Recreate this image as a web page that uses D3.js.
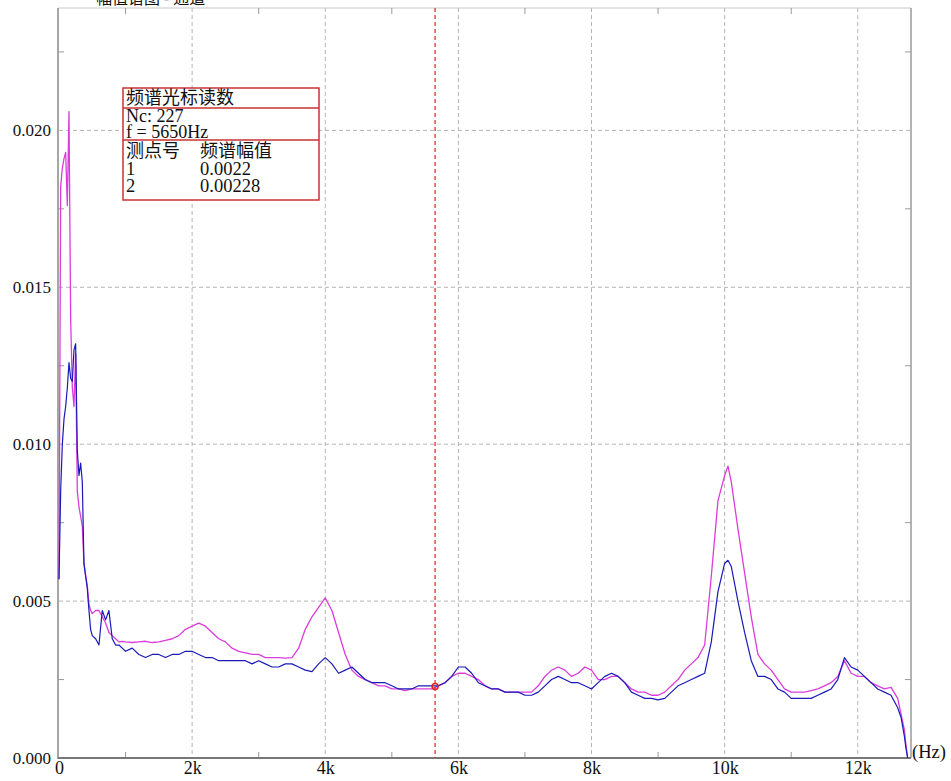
<!DOCTYPE html>
<html>
<head>
<meta charset="utf-8">
<script src="https://cdn.jsdelivr.net/npm/d3@7"></script>
<style>
  html, body { margin: 0; padding: 0; background: #fff; }
  svg { display: block; }
  text { font-family: "Liberation Serif", "Noto Sans CJK SC", serif; fill: #111; }
</style>
</head>
<body>
<svg id="chart" width="951" height="781"></svg>
<script>
// Frequency lines (Hz) shared by both measuring points
const freqs = [
  0, 25, 50, 75, 100, 125, 150, 175, 200, 225, 250, 275, 300, 325, 350, 375, 400, 425, 450, 475, 500,
  550, 600, 650, 700, 750, 800, 850, 900, 950, 1000,
  1100, 1200, 1300, 1400, 1500, 1600, 1700, 1800, 1900, 2000,
  2100, 2200, 2300, 2400, 2500, 2600, 2700, 2800, 2900, 3000,
  3100, 3200, 3300, 3400, 3500, 3600, 3700, 3800, 3900, 4000,
  4100, 4200, 4300, 4400, 4500, 4600, 4700, 4800, 4900, 5000,
  5100, 5200, 5300, 5400, 5500, 5600, 5700, 5800, 5900, 6000,
  6100, 6200, 6300, 6400, 6500, 6600, 6700, 6800, 6900, 7000,
  7100, 7200, 7300, 7400, 7500, 7600, 7700, 7800, 7900, 8000,
  8100, 8200, 8300, 8400, 8500, 8600, 8700, 8800, 8900, 9000,
  9100, 9200, 9300, 9400, 9500, 9600, 9700, 9800, 9900, 10000, 10050,
  10100, 10200, 10300, 10400, 10500, 10600, 10700, 10800, 10900, 11000,
  11100, 11200, 11300, 11400, 11500, 11600, 11700, 11800, 11900, 12000,
  12100, 12200, 12300, 12400, 12500, 12600, 12650, 12700, 12725, 12750
];

// Measuring point 2 (magenta)
const point2 = [
  0.0057, 0.0182, 0.0188, 0.0191, 0.0193, 0.0176, 0.0206, 0.0140, 0.0118, 0.0112, 0.0129, 0.0085, 0.0080, 0.0077, 0.0074, 0.0062, 0.0058, 0.0055, 0.0049, 0.0047, 0.0046,
  0.0047, 0.0047, 0.0045, 0.0043, 0.0040, 0.0039, 0.0038, 0.0037, 0.00372, 0.0037,
  0.00368, 0.0037, 0.00372, 0.00368, 0.0037, 0.00375, 0.0038, 0.0039, 0.0041, 0.0042,
  0.0043, 0.0042, 0.0040, 0.0038, 0.0037, 0.0035, 0.0034, 0.00335, 0.0033, 0.0033,
  0.0032, 0.0032, 0.0032, 0.00318, 0.0032, 0.0035, 0.0041, 0.0045, 0.0048, 0.0051,
  0.0047, 0.0040, 0.0033, 0.0028, 0.0026, 0.0025, 0.0024, 0.0023, 0.0023, 0.0022,
  0.0022, 0.00215, 0.0022, 0.0022, 0.0022, 0.0022, 0.0023, 0.0024, 0.0026, 0.0027,
  0.0027, 0.0026, 0.0025, 0.0023, 0.0022, 0.0022, 0.0021, 0.0021, 0.0021, 0.0021,
  0.0021, 0.0023, 0.0026, 0.0028, 0.0029, 0.0028, 0.0026, 0.0027, 0.0029, 0.0028,
  0.0025, 0.0025, 0.0026, 0.0026, 0.0024, 0.0022, 0.0021, 0.0021, 0.0020, 0.0020,
  0.0021, 0.0023, 0.0025, 0.0028, 0.0030, 0.0032, 0.0036, 0.0058, 0.0082, 0.0090, 0.0093,
  0.0088, 0.0073, 0.0059, 0.0045, 0.0033, 0.0030, 0.0028, 0.0025, 0.0022, 0.0021,
  0.0021, 0.0021, 0.00215, 0.0022, 0.0023, 0.0024, 0.0026, 0.0031, 0.0027, 0.0026,
  0.0026, 0.0024, 0.0023, 0.0022, 0.00225, 0.0019, 0.0014, 0.0009, 0.0004, 0.0
];

// Measuring point 1 (blue)
const point1 = [
  0.0057, 0.0085, 0.0100, 0.0108, 0.0112, 0.0118, 0.0126, 0.0121, 0.0120, 0.0130, 0.0132, 0.0098, 0.0090, 0.0094, 0.0088, 0.0062, 0.0058, 0.0054, 0.0047, 0.0041, 0.0039,
  0.0038, 0.0036, 0.0047, 0.0044, 0.0047, 0.0038, 0.0036, 0.0036, 0.0035, 0.0034,
  0.0035, 0.0033, 0.0032, 0.0033, 0.0033, 0.0032, 0.0033, 0.0033, 0.0034, 0.0034,
  0.0033, 0.0032, 0.0032, 0.0031, 0.0031, 0.0031, 0.0031, 0.0031, 0.0030, 0.0031,
  0.0030, 0.0029, 0.0029, 0.0030, 0.0030, 0.0029, 0.0028, 0.00275, 0.0030, 0.0032,
  0.0030, 0.0027, 0.0028, 0.0029, 0.0027, 0.0025, 0.0024, 0.0024, 0.0024, 0.0023,
  0.0022, 0.0022, 0.0022, 0.0023, 0.0023, 0.0023, 0.0023, 0.0024, 0.0026, 0.0029,
  0.0029, 0.0027, 0.0024, 0.0023, 0.0022, 0.0022, 0.0021, 0.0021, 0.0021, 0.0020,
  0.0020, 0.0021, 0.0023, 0.0025, 0.0026, 0.0025, 0.0024, 0.0024, 0.0023, 0.0022,
  0.0024, 0.0026, 0.0027, 0.0026, 0.0024, 0.0021, 0.0020, 0.0019, 0.0019, 0.00185,
  0.0019, 0.0021, 0.0023, 0.0024, 0.0025, 0.0026, 0.0027, 0.0037, 0.0053, 0.0062, 0.0063,
  0.0061, 0.0050, 0.0040, 0.0031, 0.0026, 0.0026, 0.0025, 0.0022, 0.0021, 0.0019,
  0.0019, 0.0019, 0.0019, 0.0020, 0.0021, 0.0022, 0.0025, 0.0032, 0.0029, 0.0028,
  0.0026, 0.0024, 0.0022, 0.0021, 0.0020, 0.0016, 0.0013, 0.0007, 0.0003, 0.0
];

const xMajorTicks = [0, 2000, 4000, 6000, 8000, 10000, 12000];
const xMinorTicks = [1000, 3000, 5000, 7000, 9000, 11000];
const yMajorTicks = [0, 0.005, 0.010, 0.015, 0.020];
const yMinorTicks = [0.0025, 0.0075, 0.0125, 0.0175, 0.0225];

// Spectrum cursor readout
const cursorFreq = 5650;
const cursorLine = 227;
const cursorValue = 0.00228;
const readoutRows = [["1", "0.0022"], ["2", "0.00228"]];

const svg = d3.select("#chart");
const plotLeft = 59, plotRight = 911, plotTop = 8, plotBottom = 758;

const x = d3.scaleLinear().domain([0, 12800]).range([plotLeft, plotRight]);
const y = d3.scaleLinear().domain([0, 0.0239]).range([plotBottom, plotTop]);

// Heading, mostly above the top edge of the page
svg.append("text").attr("x", 96).attr("y", 4).attr("font-size", 16).text("幅值谱图 - 通道");

// Grid
const grid = svg.append("g").attr("stroke", "#b4b4b4").attr("stroke-dasharray", "4,3").attr("stroke-width", 1);
grid.selectAll("line.v").data(xMajorTicks.slice(1)).join("line")
  .attr("x1", d => x(d)).attr("x2", d => x(d)).attr("y1", plotTop).attr("y2", plotBottom);
grid.selectAll("line.h").data(yMajorTicks.slice(1)).join("line")
  .attr("x1", plotLeft).attr("x2", plotRight).attr("y1", d => y(d)).attr("y2", d => y(d));

// Frame
const frame = svg.append("g").attr("fill", "none");
frame.append("line").attr("x1", plotLeft - 1).attr("x2", plotRight).attr("y1", plotTop).attr("y2", plotTop).attr("stroke", "#c8c8c8");
frame.append("line").attr("x1", plotRight).attr("x2", plotRight).attr("y1", plotTop).attr("y2", plotBottom).attr("stroke", "#9a9a9a").attr("stroke-width", 1.5);
frame.append("line").attr("x1", plotLeft - 1).attr("x2", plotLeft - 1).attr("y1", plotTop).attr("y2", plotBottom + 1).attr("stroke", "#888").attr("stroke-width", 1.5);

// Minor ticks
const ticks = svg.append("g").attr("stroke", "#999").attr("stroke-width", 1);
xMinorTicks.forEach(f => {
  ticks.append("line").attr("x1", x(f)).attr("x2", x(f)).attr("y1", plotBottom).attr("y2", plotBottom - 6);
  ticks.append("line").attr("x1", x(f)).attr("x2", x(f)).attr("y1", plotTop).attr("y2", plotTop + 6);
});
yMinorTicks.forEach(v => {
  ticks.append("line").attr("x1", plotLeft - 1).attr("x2", plotLeft + 5).attr("y1", y(v)).attr("y2", y(v));
  ticks.append("line").attr("x1", plotRight).attr("x2", plotRight - 6).attr("y1", y(v)).attr("y2", y(v));
});

// Axes
const yAxis = d3.axisLeft(y).tickValues(yMajorTicks).tickFormat(d3.format(".3f")).tickSize(0).tickPadding(7);
svg.append("g").attr("transform", `translate(${plotLeft - 1},0)`).call(yAxis)
  .call(g => g.select(".domain").remove())
  .call(g => g.selectAll("text").attr("font-size", 17).attr("font-family", "Liberation Serif").attr("fill", "#111"));

const xAxis = d3.axisBottom(x).tickValues(xMajorTicks)
  .tickFormat(d => d === 0 ? "0" : (d / 1000) + "k").tickSize(0).tickPadding(3);
svg.append("g").attr("transform", `translate(0,${plotBottom})`).call(xAxis)
  .call(g => g.select(".domain").attr("stroke", "#777").attr("stroke-width", 2).attr("d", `M${plotLeft - 1},0H${plotRight}`))
  .call(g => g.selectAll("text").attr("font-size", 18).attr("font-family", "Liberation Serif").attr("fill", "#111"));

svg.append("text").attr("x", 912).attr("y", 758).attr("font-size", 18.5).text("(Hz)");

// Spectra
const line = d3.line().x((d, i) => x(freqs[i])).y(d => y(d));
svg.append("path").datum(point2).attr("d", line)
  .attr("fill", "none").attr("stroke", "#dc3cdc").attr("stroke-width", 1.3).attr("stroke-linejoin", "round");
svg.append("path").datum(point1).attr("d", line)
  .attr("fill", "none").attr("stroke", "#1a1ab8").attr("stroke-width", 1.2).attr("stroke-linejoin", "round");

// Cursor
svg.append("line").attr("x1", x(cursorFreq)).attr("x2", x(cursorFreq)).attr("y1", plotTop).attr("y2", plotBottom)
  .attr("stroke", "#e02020").attr("stroke-width", 1.2).attr("stroke-dasharray", "4,3");
svg.append("circle").attr("cx", x(cursorFreq)).attr("cy", y(cursorValue)).attr("r", 3)
  .attr("fill", "none").attr("stroke", "#e02020").attr("stroke-width", 1.5);

// Readout box
const box = svg.append("g").attr("transform", "translate(123,88)");
const bw = 196, bh = 112;
box.append("rect").attr("width", bw).attr("height", bh).attr("fill", "#fff").attr("stroke", "#c83232").attr("stroke-width", 1.5);
box.append("line").attr("x1", 0).attr("x2", bw).attr("y1", 20).attr("y2", 20).attr("stroke", "#c83232").attr("stroke-width", 1.5);
box.append("line").attr("x1", 0).attr("x2", bw).attr("y1", 52).attr("y2", 52).attr("stroke", "#c83232").attr("stroke-width", 1.5);
const bt = (tx, ty, s, fs) => box.append("text").attr("x", tx).attr("y", ty).attr("font-size", fs).text(s);
bt(3, 16, "频谱光标读数", 18);
bt(3, 34, "Nc: " + cursorLine, 18);
bt(3, 50, "f = " + cursorFreq + "Hz", 18);
bt(3, 69, "测点号", 18);
bt(77, 69, "频谱幅值", 18);
readoutRows.forEach((r, i) => {
  bt(3, 87 + i * 17, r[0], 18.5);
  bt(77, 87 + i * 17, r[1], 18.5);
});
</script>
</body>
</html>
